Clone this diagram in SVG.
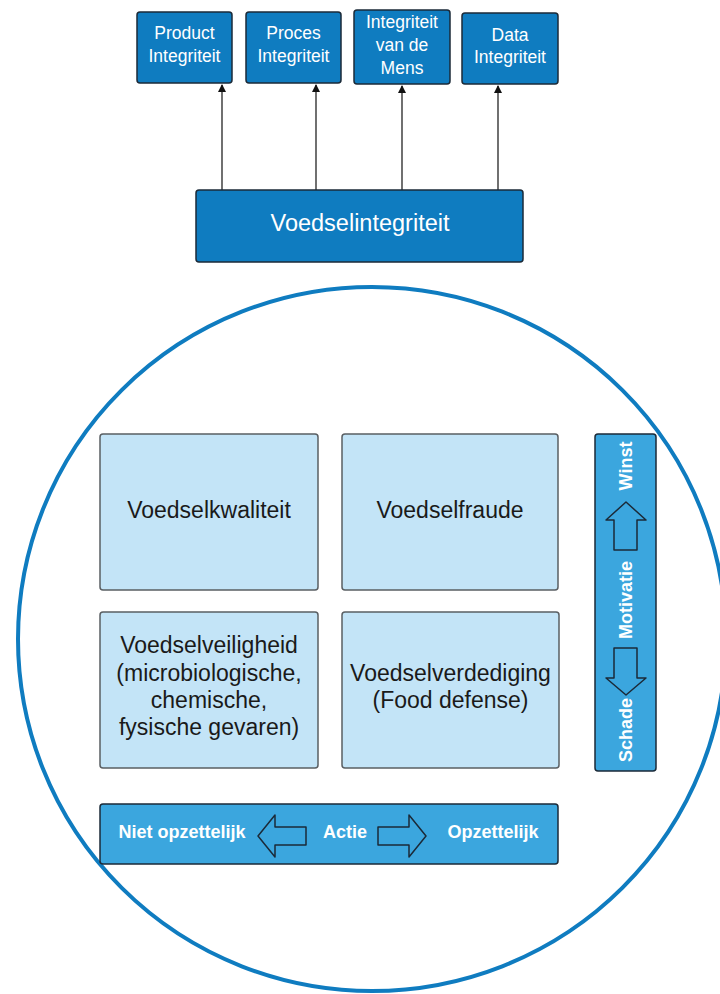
<svg xmlns="http://www.w3.org/2000/svg" width="720" height="994" viewBox="0 0 720 994">
  <defs>
    <style>
      .dark { fill: #0f7cc0; stroke: #1b2a38; stroke-width: 1.5; }
      .light { fill: #c3e4f7; stroke: #5a5f63; stroke-width: 1.5; }
      .bar { fill: #3ba6de; stroke: #1b2a38; stroke-width: 1.5; }
      .hollow { fill: #3ba6de; stroke: #1b2a38; stroke-width: 1.5; stroke-linejoin: round; }
      .wt { font-family: "Liberation Sans", Arial, sans-serif; fill: #ffffff; text-anchor: middle; }
      .top { font-size: 17.5px; }
      .bt { font-family: "Liberation Sans", Arial, sans-serif; fill: #1a1a1a; text-anchor: middle; font-size: 23px; }
      .bold { font-weight: bold; font-size: 18px; }
      .conn { stroke: #111111; stroke-width: 1.2; fill: none; }
    </style>
    <marker id="arrow" markerWidth="8" markerHeight="8" refX="7" refY="4" orient="auto" markerUnits="userSpaceOnUse">
      <path d="M0,0 L8,4 L0,8 Z" fill="#111111"/>
    </marker>
  </defs>

  <!-- outer circle -->
  <ellipse id="scope" cx="372" cy="639" rx="354" ry="352" fill="none" stroke="#0f7cc0" stroke-width="4"/>

  <!-- connectors -->
  <g id="connectors">
    <line class="conn" x1="222" y1="190" x2="222" y2="85" marker-end="url(#arrow)"/>
    <line class="conn" x1="316" y1="190" x2="316" y2="85" marker-end="url(#arrow)"/>
    <line class="conn" x1="402" y1="190" x2="402" y2="86" marker-end="url(#arrow)"/>
    <line class="conn" x1="498" y1="190" x2="498" y2="86" marker-end="url(#arrow)"/>
  </g>

  <!-- top-level integrity aspects -->
  <g id="product">
    <rect class="dark" x="137" y="12" width="95" height="71" rx="3"/>
    <text class="wt top" x="184.5" y="39">Product</text>
    <text class="wt top" x="184.5" y="62">Integriteit</text>
  </g>
  <g id="proces">
    <rect class="dark" x="246" y="12" width="95" height="71" rx="3"/>
    <text class="wt top" x="293.5" y="39">Proces</text>
    <text class="wt top" x="293.5" y="62">Integriteit</text>
  </g>
  <g id="mens">
    <rect class="dark" x="354" y="10" width="96" height="74" rx="3"/>
    <text class="wt top" x="402" y="28">Integriteit</text>
    <text class="wt top" x="402" y="51">van de</text>
    <text class="wt top" x="402" y="74">Mens</text>
  </g>
  <g id="data">
    <rect class="dark" x="462" y="13" width="96" height="71" rx="3"/>
    <text class="wt top" x="510" y="41">Data</text>
    <text class="wt top" x="510" y="63">Integriteit</text>
  </g>

  <g id="voedselintegriteit">
    <rect class="dark" x="196" y="190" width="327" height="72" rx="3"/>
    <text class="wt" font-size="23.5" x="360" y="231">Voedselintegriteit</text>
  </g>

  <!-- quadrants -->
  <g id="kwaliteit">
    <rect class="light" x="100" y="434" width="218" height="156" rx="3"/>
    <text class="bt" x="209" y="518">Voedselkwaliteit</text>
  </g>
  <g id="fraude">
    <rect class="light" x="342" y="434" width="216" height="156" rx="3"/>
    <text class="bt" x="450" y="518">Voedselfraude</text>
  </g>
  <g id="veiligheid">
    <rect class="light" x="100" y="612" width="218" height="156" rx="3"/>
    <text class="bt" x="209" y="653">Voedselveiligheid</text>
    <text class="bt" x="209" y="681">(microbiologische,</text>
    <text class="bt" x="209" y="708">chemische,</text>
    <text class="bt" x="209" y="735">fysische gevaren)</text>
  </g>
  <g id="verdediging">
    <rect class="light" x="342" y="612" width="217" height="156" rx="3"/>
    <text class="bt" x="450.5" y="681">Voedselverdediging</text>
    <text class="bt" x="450.5" y="708">(Food defense)</text>
  </g>

  <!-- motivation axis -->
  <g id="motivatie">
    <rect class="bar" x="595" y="434" width="61" height="337" rx="3"/>
    <path class="hollow" d="M626,502 L646,520 L637,520 L637,550 L614,550 L614,520 L606,520 Z"/>
    <path class="hollow" d="M614,648 L637,648 L637,678 L646,678 L626,695 L606,678 L614,678 Z"/>
    <text class="wt bold" font-size="19" transform="translate(632,466) rotate(-90)">Winst</text>
    <text class="wt bold" font-size="19" transform="translate(632,600) rotate(-90)">Motivatie</text>
    <text class="wt bold" font-size="19" transform="translate(632,730) rotate(-90)">Schade</text>
  </g>

  <!-- action axis -->
  <g id="actie">
    <rect class="bar" x="100" y="804" width="458" height="60" rx="3"/>
    <path class="hollow" d="M258,836 L275,815 L275,827 L306,827 L306,845 L275,845 L275,857 Z"/>
    <path class="hollow" d="M378,827 L409,827 L409,815 L426,836 L409,857 L409,845 L378,845 Z"/>
    <text class="wt bold" x="182" y="838">Niet opzettelijk</text>
    <text class="wt bold" x="345" y="838">Actie</text>
    <text class="wt bold" x="493" y="838">Opzettelijk</text>
  </g>
</svg>
